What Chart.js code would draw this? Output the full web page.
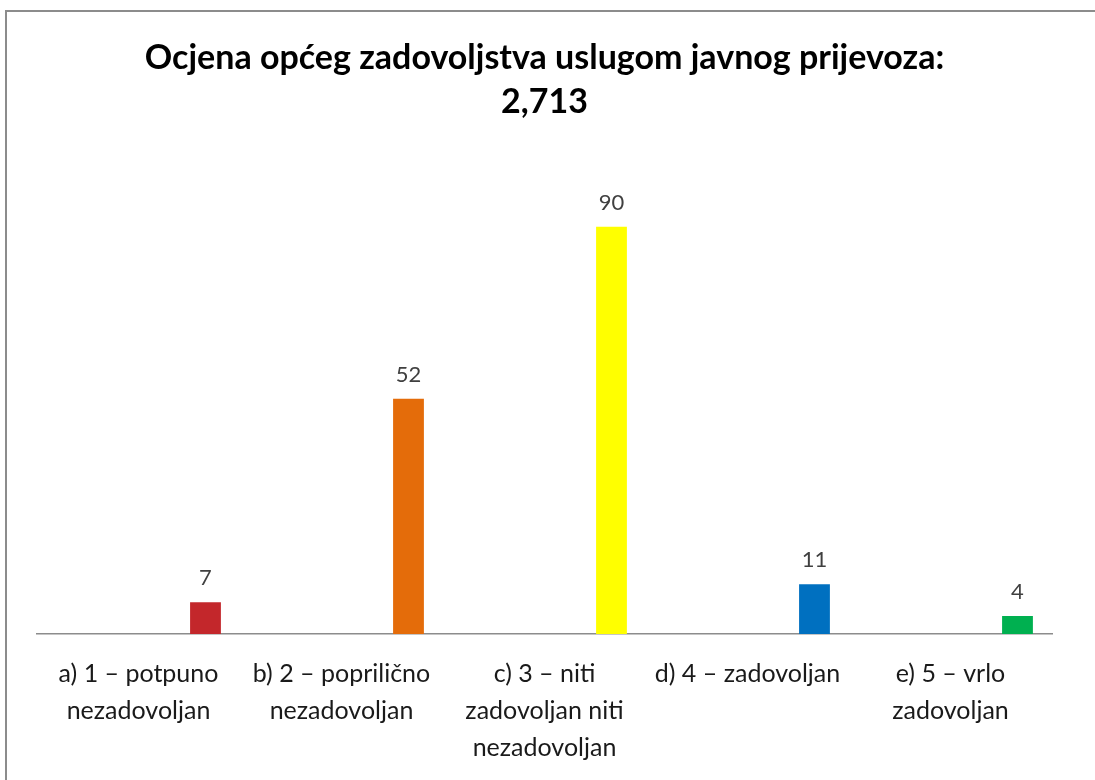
<!DOCTYPE html>
<html>
<head>
<meta charset="utf-8">
<script src="https://cdn.jsdelivr.net/npm/chart.js@4"></script>
<style>
  html, body { margin: 0; padding: 0; background: #fff; }
  #wrap { position: relative; width: 1095px; height: 780px; overflow: hidden; }
  #frame { position: absolute; left: 5px; top: 10px; width: 1200px; height: 900px;
           border-left: 2px solid #8c8c8c; border-top: 2px solid #8c8c8c; }
  canvas { position: absolute; left: 0; top: 0; }
</style>
</head>
<body>
<div id="wrap">
  <div id="frame"></div>
  <canvas id="chart" width="1095" height="780"></canvas>
</div>
<script>
// kategorije (ocjene) i broj odgovora
const categories = [
  ['a) 1 – potpuno', 'nezadovoljan'],
  ['b) 2 – poprilično', 'nezadovoljan'],
  ['c) 3 – niti', 'zadovoljan niti', 'nezadovoljan'],
  'd) 4 – zadovoljan',
  ['e) 5 – vrlo', 'zadovoljan']
];
const counts = [7, 52, 90, 11, 4];
const barColors = ['#C3272B', '#E46C0A', '#FFFF00', '#0070C0', '#00B050'];
const titleLines = ['Ocjena općeg zadovoljstva uslugom javnog prijevoza:', '2,713'];

// ispis vrijednosti iznad stupaca
const valueLabels = {
  id: 'valueLabels',
  afterDatasetsDraw(chart) {
    const ctx = chart.ctx;
    const meta = chart.getDatasetMeta(2);
    ctx.save();
    ctx.font = '22px Lato';
    ctx.fillStyle = '#404040';
    ctx.textAlign = 'center';
    ctx.textBaseline = 'middle';
    meta.data.forEach((bar, i) => {
      ctx.fillText(String(counts[i]), bar.x, bar.y - 24);
    });
    ctx.restore();
  }
};

const empty = counts.map(() => null);

new Chart(document.getElementById('chart'), {
  type: 'bar',
  data: {
    labels: categories,
    datasets: [
      { data: empty },
      { data: empty },
      { data: counts, backgroundColor: barColors }
    ]
  },
  options: {
    responsive: false,
    animation: false,
    categoryPercentage: 0.99,
    barPercentage: 0.46,
    layout: { padding: { left: 37, right: 43, bottom: -7, top: 0 } },
    plugins: {
      legend: { display: false },
      tooltip: { enabled: false },
      title: {
        display: true,
        text: titleLines,
        color: '#000',
        font: { family: 'Lato', size: 34, weight: 'bold', lineHeight: 1.3 },
        padding: { top: 36, bottom: 57 }
      }
    },
    scales: {
      x: {
        grid: { display: false, drawTicks: false },
        border: { display: true, color: '#8c8c8c', width: 1.5 },
        ticks: {
          color: '#1a1a1a',
          padding: 21,
          maxRotation: 0,
          autoSkip: false,
          font: { family: 'Lato', size: 25, lineHeight: 1.48 }
        }
      },
      y: {
        display: false,
        min: 0,
        max: 100
      }
    }
  },
  plugins: [valueLabels]
});
</script>
</body>
</html>
